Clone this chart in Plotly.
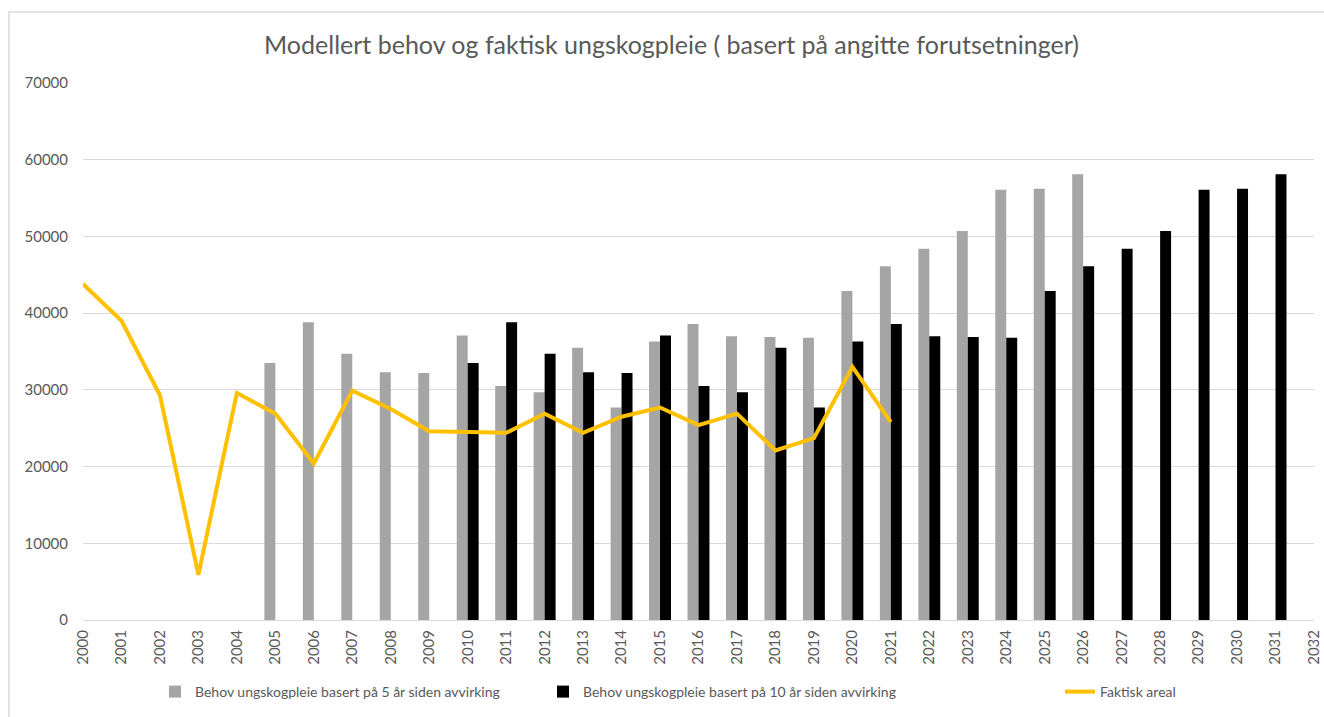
import plotly.graph_objects as go

# ---- data ----
years_5 = list(range(2005, 2027))
behov_5 = [33500, 38800, 34700, 32300, 32200, 37100, 30500, 29700, 35500, 27700,
           36300, 38600, 37000, 36900, 36800, 42900, 46100, 48400, 50700, 56100,
           56200, 58100]

years_10 = list(range(2010, 2032))
behov_10 = [33500, 38800, 34700, 32300, 32200, 37100, 30500, 29700, 35500, 27700,
            36300, 38600, 37000, 36900, 36800, 42900, 46100, 48400, 50700, 56100,
            56200, 58100]

years_f = list(range(2000, 2022))
faktisk = [43800, 39000, 29300, 5900, 29600, 26900, 20400, 29900, 27500, 24600,
           24500, 24400, 26900, 24400, 26500, 27700, 25400, 26900, 22100, 23700,
           33000, 25800]

title_text = "Modellert behov og faktisk ungskogpleie ( basert på angitte forutsetninger)"
name_5 = "Behov ungskogpleie basert på 5 år siden avvirking"
name_10 = "Behov ungskogpleie basert på 10 år siden avvirking"
name_f = "Faktisk areal"

FONT = "Lato, 'Open Sans', sans-serif"
TXT = "#595959"
GRID = "#D9D9D9"

W, H = 1324, 717
L, T = 83, 83
Rp, Bp = 1314, 620
R, B = W - Rp, H - Bp
pw = Rp - L
ph = Bp - T

fig = go.Figure()
fig.add_trace(go.Bar(x=years_5, y=behov_5, name=name_5, marker_color="#A5A5A5",
                     marker_line_width=0, legend="legend"))
fig.add_trace(go.Bar(x=years_10, y=behov_10, name=name_10, marker_color="#000000",
                     marker_line_width=0, legend="legend2"))
fig.add_trace(go.Scatter(x=years_f, y=faktisk, name=name_f, mode="lines",
                         line=dict(color="#FFC000", width=4), legend="legend3"))

def px_x(p):
    return (p - L) / pw

def px_y(p):
    return (Bp - p) / ph

legend_common = dict(orientation="h", yanchor="middle", xanchor="left",
                     font=dict(family=FONT, size=14, color=TXT),
                     bgcolor="rgba(0,0,0,0)", borderwidth=0)

fig.update_layout(
    width=W, height=H,
    margin=dict(l=L, r=R, t=T, b=B, autoexpand=False),
    paper_bgcolor="white", plot_bgcolor="white",
    barmode="group", bargap=0.43, bargroupgap=0,
    title=dict(text=title_text, x=671.5 / W, xref="container", xanchor="center",
               y=1 - 45 / H, yref="container", yanchor="middle",
               font=dict(family=FONT, size=25, color=TXT)),
    xaxis=dict(range=[2000, 2032], tickmode="linear", tick0=2000, dtick=1,
               tickangle=-90, showgrid=False, zeroline=False,
               showline=False, ticks="", ticklabelstandoff=6,
               ticklabeloverflow="allow", automargin=False,
               tickfont=dict(family=FONT, size=15, color=TXT)),
    yaxis=dict(range=[0, 70000], tickmode="linear", tick0=0, dtick=10000,
               tickformat="d", showgrid=True, gridcolor=GRID, gridwidth=1,
               zeroline=True, zerolinecolor=GRID, zerolinewidth=1,
               showline=False, ticks="", ticklabelstandoff=14, automargin=False,
               tickfont=dict(family=FONT, size=15, color=TXT)),
    legend=dict(x=px_x(155), y=px_y(692), **legend_common),
    legend2=dict(x=px_x(543), y=px_y(692), **legend_common),
    legend3=dict(x=px_x(1060), y=px_y(692), **legend_common),
    showlegend=True,
    shapes=[dict(type="rect", xref="paper", yref="paper",
                 x0=px_x(9), x1=px_x(1340), y0=px_y(760), y1=px_y(12),
                 line=dict(color="#D9D9D9", width=1.5), fillcolor="rgba(0,0,0,0)",
                 layer="below")],
)

fig.write_html(
    "out.html",
    config={"displayModeBar": False},
    post_script=("document.body.style.margin='0';"
                 "document.body.style.overflow='hidden';"
                 "document.documentElement.style.overflow='hidden';"),
)
